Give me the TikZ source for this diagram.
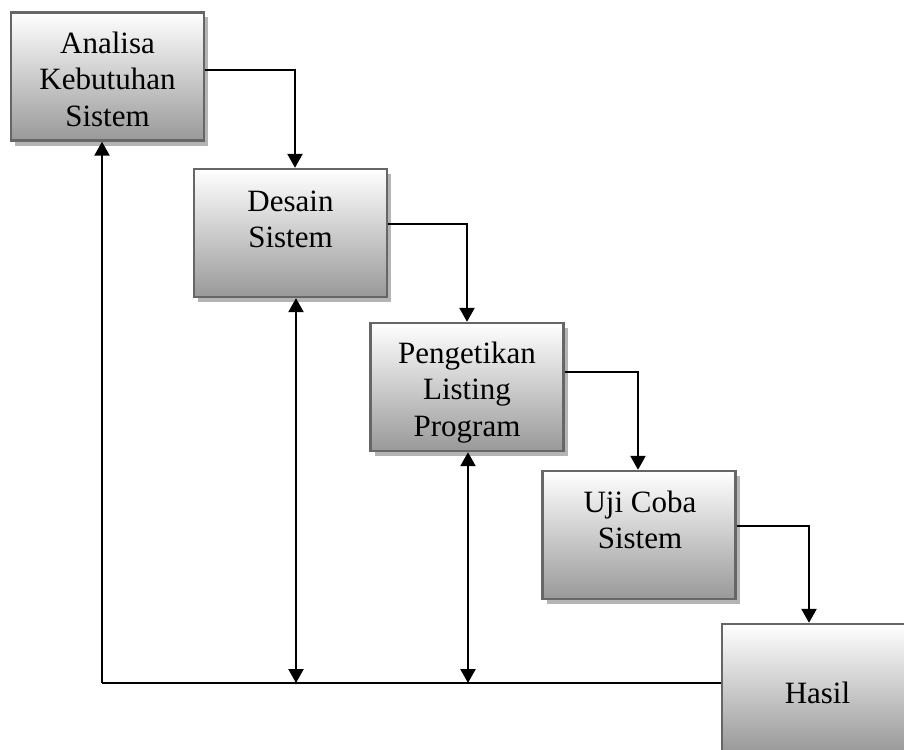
\documentclass[tikz,border=0pt]{standalone}
\usepackage{fontspec}
\setmainfont{Liberation Serif}
\usetikzlibrary{arrows.meta,shadows}
\definecolor{boxline}{HTML}{666666}
\definecolor{boxbot}{HTML}{999999}
\definecolor{shadowc}{HTML}{B4B4B4}
\tikzset{
  stagebox/.style={rectangle, draw=boxline, line width=2.4pt, top color=white, bottom color=boxbot,
    minimum width=193pt, minimum height=128pt, inner sep=0pt,
    drop shadow={shadow xshift=4pt, shadow yshift=-5pt, fill=shadowc, opacity=1}},
  stagetext/.style={anchor=north, inner sep=0pt, align=center,
    font=\fontsize{31}{36.5}\selectfont},
  flow/.style={draw=black, line width=2.4pt, -{Triangle[width=15pt,length=14pt]}},
  both/.style={draw=black, line width=2.4pt, {Triangle[width=15pt,length=14pt]}-{Triangle[width=15pt,length=14pt]}},
  plain/.style={draw=black, line width=2pt},
}
\begin{document}
\begin{tikzpicture}[x=1pt,y=-1pt]
\clip (0,0) rectangle (904,749);
\fill[white] (0,0) rectangle (904,749);

\node[stagebox] (b1) at (107.5,76.5) {};
\node[stagebox] (b2) at (290.5,233) {};
\node[stagebox] (b3) at (467,387) {};
\node[stagebox] (b4) at (639,535) {};
\node[stagebox] (b5) at (818.5,688) {};

\node[stagetext] (t1) at (107.5,27.45) {\strut Analisa\\Kebutuhan\\Sistem\strut};
\node[stagetext] (t2) at (290.5,185.45) {\strut Desain\\Sistem\strut};
\node[stagetext] (t3) at (467,337.45) {\strut Pengetikan\\Listing\\Program\strut};
\node[stagetext] (t4) at (640,486.45) {\strut Uji Coba\\Sistem\strut};
\node[stagetext] (t5) at (817.5,677.45) {\strut Hasil\strut};

\coordinate (c) at (102,683);

\draw[flow] ([yshift=6.5pt]b1.east) -| ([xshift=4.5pt]b2.north);
\draw[flow] ([yshift=9pt]b2.east) -| ([xshift=0pt]b3.north);
\draw[flow] ([yshift=15pt]b3.east) -| ([xshift=-1pt]b4.north);
\draw[flow] ([yshift=9pt]b4.east) -| ([xshift=-9.5pt]b5.north);

\draw[plain] ([yshift=5pt]b5.west) -- (c);
\draw[flow] (c) -- ([xshift=-5.5pt]b1.south);
\draw[both] ([xshift=5.5pt]b2.south) -- ([xshift=5.5pt]b2.south |- c);
\draw[both] ([xshift=1pt]b3.south) -- ([xshift=1pt]b3.south |- c);
\end{tikzpicture}
\end{document}
